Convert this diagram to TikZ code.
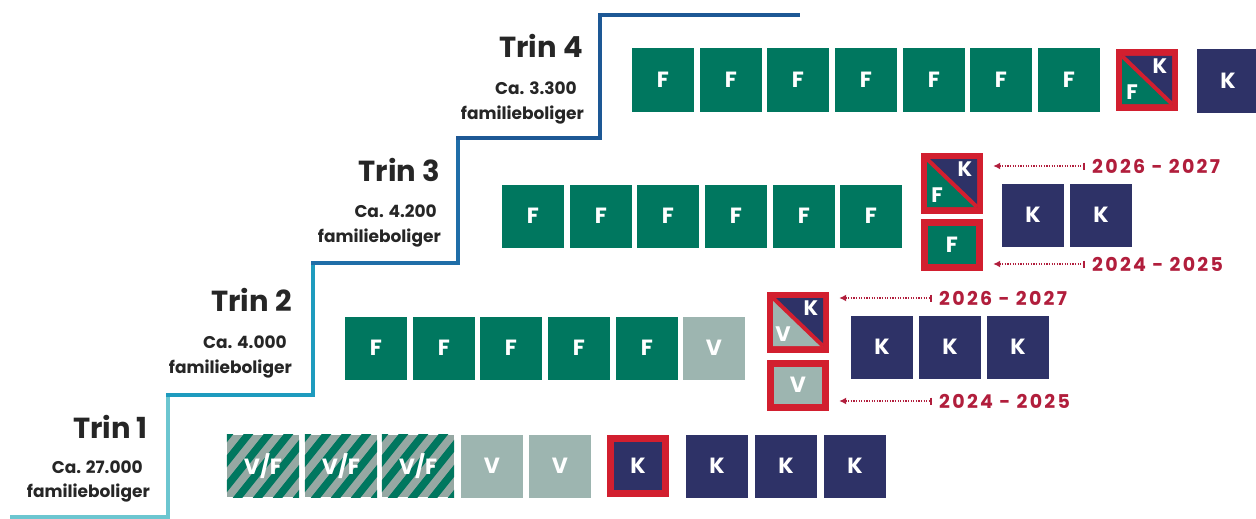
\documentclass[tikz,border=0pt]{standalone}
\usepackage{fontspec}
\setmainfont{Poppins}
\newfontfamily\datofont[LetterSpace=12]{Poppins}
\usetikzlibrary{arrows.meta}
\definecolor{groen}{HTML}{00775F}
\definecolor{navy}{HTML}{2E3267}
\definecolor{graa}{HTML}{9DB5B0}
\definecolor{stribegraa}{HTML}{96A8A3}
\definecolor{rod}{HTML}{D21F2F}
\definecolor{datorod}{HTML}{B11E3C}
\definecolor{trappeA}{HTML}{6CC6D0}
\definecolor{trappeB}{HTML}{1E9BBE}
\definecolor{trappeC}{HTML}{1F6EA8}
\definecolor{trappeD}{HTML}{1D5895}
\tikzset{
	boks/.style={rectangle, minimum width=62pt, minimum height=63pt, inner sep=0pt, text=white, font=\fontsize{22}{22}\selectfont\bfseries},
	bogstav/.style={inner sep=0pt, text=white, font=\fontsize{21}{21}\selectfont\bfseries},
	trin/.style={inner sep=0pt, text=black!85, font=\fontsize{29}{29}\selectfont\bfseries},
	antal/.style={inner sep=0pt, text=black!85, font=\fontsize{17}{17}\selectfont\bfseries},
	dato/.style={inner sep=0pt, text=datorod, font=\fontsize{19}{19}\datofont\bfseries},
	pil/.style={datorod, line width=1.6pt, dash pattern=on 1.2pt off 1.4pt, {Latex[length=7pt,width=7pt]-Bar[width=7pt]}, shorten <=10pt, shorten >=7pt},
}
\newcommand{\boks}[5] % name, x in px, y in px (centre), colour, letter
{
	\node[boks, fill=#4] (#1) at (#2,#3) {#5};
}
\newcommand{\delt}[5] % name, x, y (centre), colour below, letter below
{
	% red frame
	\node[boks, fill=rod, minimum height=61pt] (#1) at (#2,#3) {};
	% two halves
	\fill[#4] (#2-25,#3-24) -- (#2-25,#3+24) -- (#2+25,#3+24) -- cycle;
	\fill[navy] (#2-25,#3-24) -- (#2+25,#3-24) -- (#2+25,#3+24) -- cycle;
	% red diagonal
	\draw[rod, line width=4pt] (#2-25,#3-24) -- (#2+25,#3+24);
	\node[bogstav] (#1k) at (#2+13,#3-14) {K};
	\node[bogstav] (#1b) at (#2-15,#3+12) {#5};
}
\newcommand{\ramme}[6] % name, x, y (centre), outer height, colour, letter
{
	\node[boks, fill=rod, minimum height=#4pt] (#1) at (#2,#3) {};
	\node[boks, fill=#5, minimum width=48pt, minimum height=#4pt-14pt] (#1i) at (#2,#3) {#6};
}
\newcommand{\stribe}[3] % name, x, y (centre)
{
	\node[boks, fill=stribegraa, minimum width=72pt, minimum height=62pt] (#1) at (#2,#3) {};
	\begin{scope}
		\clip (#1.north west) rectangle (#1.south east);
		\foreach \k in {-100,-80,...,100}
			\draw[groen, line width=7.5pt] (#2+\k-32,#3+40) -- (#2+\k+32,#3-40);
	\end{scope}
	\node[bogstav, font=\fontsize{22}{22}\selectfont\bfseries] (#1t) at (#2,#3) {V/F};
}

\begin{document}
\begin{tikzpicture}[x=1pt, y=-1pt]
	% 1256 x 519 px, y downwards
	\useasboundingbox (0,0) rectangle (1256,519);
	% the stair
	\draw[trappeA, line width=4.5pt] (10,517) -- (168,517) -- (168,395);
	\draw[trappeB, line width=4.5pt] (166,395) -- (313,395) -- (313,263);
	\draw[trappeC, line width=4.5pt] (311,263) -- (458,263) -- (458,138);
	\draw[trappeD, line width=4.5pt] (456,138) -- (600,138) -- (600,15) -- (800,15);
	
	% step texts
	\node[trin, anchor=base east] (trin1) at (148,438) {Trin 1};
	\node[antal, anchor=base east] (antal1) at (143,473) {Ca. 27.000};
	\node[antal, anchor=base east] (fam1) at (150,497) {familieboliger};
	\node[trin, anchor=base east] (trin2) at (292,311) {Trin 2};
	\node[antal, anchor=base east] (antal2) at (287,348) {Ca. 4.000};
	\node[antal, anchor=base east] (fam2) at (292,373) {familieboliger};
	\node[trin, anchor=base east] (trin3) at (440,181) {Trin 3};
	\node[antal, anchor=base east] (antal3) at (437,217) {Ca. 4.200};
	\node[antal, anchor=base east] (fam3) at (441,242) {familieboliger};
	\node[trin, anchor=base east] (trin4) at (583,58) {Trin 4};
	\node[antal, anchor=base east] (antal4) at (577,95) {Ca. 3.300};
	\node[antal, anchor=base east] (fam4) at (584,119) {familieboliger};
	
	% Trin 4
	\boks{f41}{663}{80}{groen}{F}
	\boks{f42}{731}{80}{groen}{F}
	\boks{f43}{798}{80}{groen}{F}
	\boks{f44}{866}{80}{groen}{F}
	\boks{f45}{934}{80}{groen}{F}
	\boks{f46}{1001}{80}{groen}{F}
	\boks{f47}{1069}{80}{groen}{F}
	\delt{s4}{1147}{80}{groen}{F}
	\boks{k41}{1228}{81}{navy}{K}
	
	% Trin 3
	\boks{f31}{533}{216}{groen}{F}
	\boks{f32}{601}{216}{groen}{F}
	\boks{f33}{668}{216}{groen}{F}
	\boks{f34}{736}{216}{groen}{F}
	\boks{f35}{804}{216}{groen}{F}
	\boks{f36}{871}{216}{groen}{F}
	\delt{s3}{952}{183}{groen}{F}
	\ramme{r3}{952}{245}{52}{groen}{F}
	\boks{k31}{1033}{215}{navy}{K}
	\boks{k32}{1101}{215}{navy}{K}
	\node[dato, anchor=west] (d3a) at (1092,166) {2026 - 2027};
	\node[dato, anchor=west] (d3b) at (1092,264) {2024 - 2025};
	\draw[pil] (s3.east |- d3a.west) -- (d3a.west);
	\draw[pil] (r3.east |- d3b.west) -- (d3b.west);
	
	% Trin 2
	\boks{f21}{376}{348}{groen}{F}
	\boks{f22}{444}{348}{groen}{F}
	\boks{f23}{511}{348}{groen}{F}
	\boks{f24}{579}{348}{groen}{F}
	\boks{f25}{647}{348}{groen}{F}
	\boks{v21}{714}{348}{graa}{V}
	\delt{s2}{798}{322}{graa}{V}
	\ramme{r2}{798}{385}{51}{graa}{V}
	\boks{k21}{882}{347}{navy}{K}
	\boks{k22}{950}{347}{navy}{K}
	\boks{k23}{1018}{347}{navy}{K}
	\node[dato, anchor=west] (d2a) at (939,298) {2026 - 2027};
	\node[dato, anchor=west] (d2b) at (939,401) {2024 - 2025};
	\draw[pil] (s2.east |- d2a.west) -- (d2a.west);
	\draw[pil] (r2.east |- d2b.west) -- (d2b.west);
	
	% Trin 1
	\stribe{vf1}{263}{466}
	\stribe{vf2}{341}{466}
	\stribe{vf3}{418}{466}
	\boks{v11}{492}{466}{graa}{V}
	\boks{v12}{560}{466}{graa}{V}
	\ramme{r1}{638}{466}{62}{navy}{K}
	\boks{k11}{717}{466}{navy}{K}
	\boks{k12}{786}{466}{navy}{K}
	\boks{k13}{855}{466}{navy}{K}
\end{tikzpicture}
\end{document}
